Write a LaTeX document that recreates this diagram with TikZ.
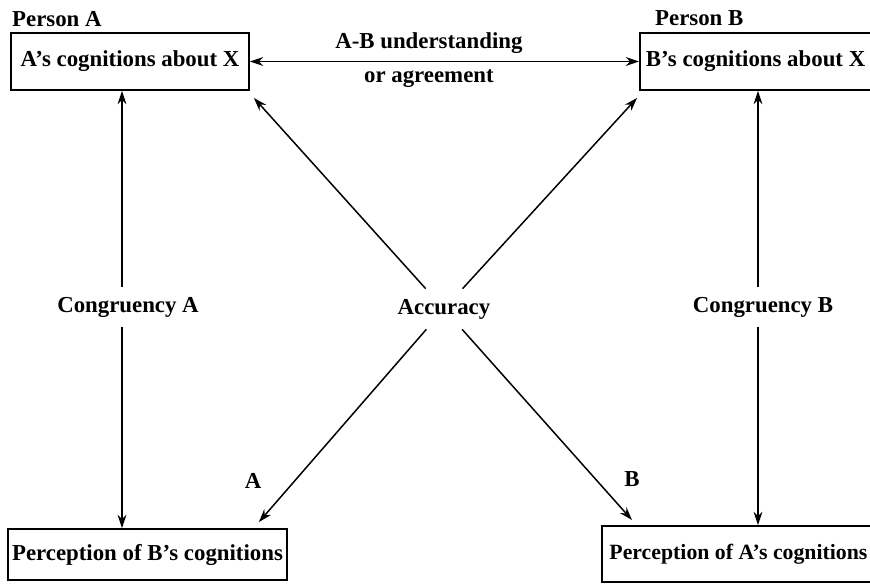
\documentclass[tikz,border=0pt]{standalone}
\usepackage{fontspec}
\setmainfont{Liberation Serif}
\usetikzlibrary{arrows.meta,positioning,calc}

\begin{document}
\begin{tikzpicture}[x=0.02cm, y=-0.02cm,
		>={Stealth[length=7.5pt,width=5pt]},
		font=\fontsize{13}{15}\selectfont\bfseries,
		cogbox/.style={draw, line width=1.1pt, inner sep=2pt},
		link/.style={line width=0.85pt}]
			% Frame of the page
			\clip (0,0) rectangle (870,584);

			% Boxes
			\node[cogbox, minimum width=4.76cm, minimum height=1.14cm] (cogA) at (130,61.5) {A's cognitions about X};
			\node[cogbox, anchor=west, text width=4.6cm, inner xsep=0.12cm, minimum height=1.14cm, align=flush left] (cogB) at (639,61.5) {B's cognitions about X};
			\node[cogbox, minimum width=5.58cm, minimum height=1.02cm] (percB) at (147.5,554.5) {Perception of B's cognitions};
			\node[cogbox, anchor=west, text width=5.8cm, inner xsep=0.15cm, minimum height=1.12cm, align=flush left,
				font=\fontsize{12.4}{15}\selectfont\bfseries] (percA) at (601,554) {Perception of A's cognitions};

			\node[above right=2.8pt and 1pt of cogA.north west, inner sep=0pt] (persA) {Person A};
			\node[above right=3.4pt and 9pt of cogB.north west, inner sep=0pt] (persB) {Person B};

			% Labels in the middle
			\node[inner xsep=2pt, inner ysep=0.2cm] (acc) at (444,309) {Accuracy};
			\node[inner xsep=2pt, inner ysep=0.2cm] (congA) at (128,307) {Congruency A};
			\node[inner xsep=2pt, inner ysep=0.2cm] (congB) at (763,307) {Congruency B};

			% Define coordinates
			\coordinate (lineA) at (122,0);
			\coordinate (lineB) at (758,0);
			\coordinate (tipUL) at ([shift={(4,7)}]cogA.south east);
			\coordinate (tipUR) at ([shift={(-2,7)}]cogB.south west);
			\coordinate (tipLL) at ([shift={(-29,-6)}]percB.north east);
			\coordinate (tipLR) at ([shift={(31,-5)}]percA.north west);

			% Understanding
			\draw[link, <->] (cogA) -- (cogB)
				node[pos=0.46, above=1pt] (underst) {A-B understanding}
				node[pos=0.46, below=1pt] (agree) {or agreement};

			% Congruency
			\draw[link, ->] (congA.north -| lineA) -- (lineA |- cogA.south);
			\draw[link, ->] (congA.south -| lineA) -- (lineA |- percB.north);
			\draw[link, ->] (congB.north -| lineB) -- (lineB |- cogB.south);
			\draw[link, ->] (congB.south -| lineB) -- (lineB |- percA.north);

			% Accuracy
			\draw[link, ->] (acc) -- (tipUL);
			\draw[link, ->] (acc) -- (tipUR);
			\draw[link, ->] (acc) -- (tipLL);
			\draw[link, ->] (acc) -- (tipLR);

			\node (labA) at (253,481) {A};
			\node (labB) at (632,479) {B};

		\end{tikzpicture}
\end{document}
